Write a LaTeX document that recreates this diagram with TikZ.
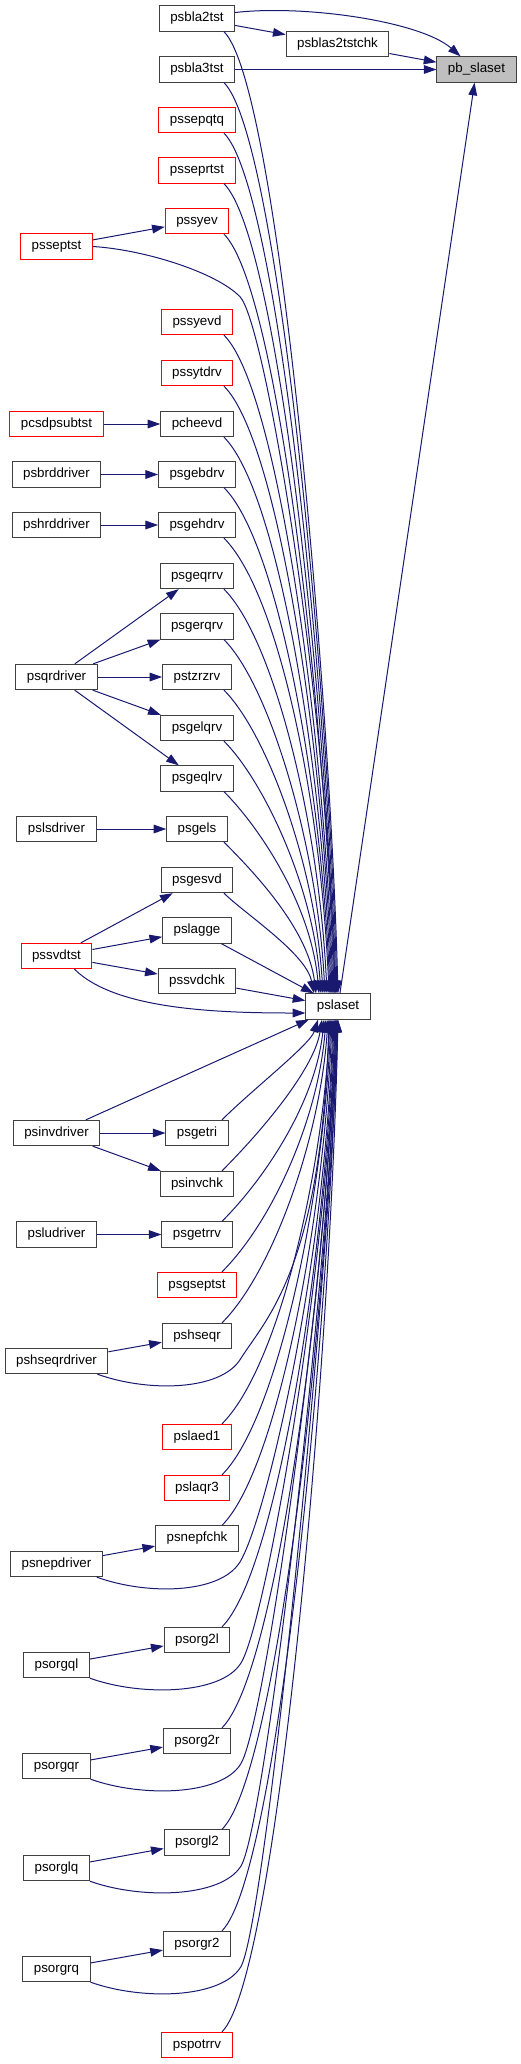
\documentclass[tikz,border=0pt]{standalone}
\usepackage{fontspec}
\setmainfont{Liberation Sans}
\usetikzlibrary{arrows.meta}
\definecolor{edgeblue}{RGB}{25,25,112}
\definecolor{boxgray}{RGB}{64,64,64}
\definecolor{selfgray}{RGB}{191,191,191}

\begin{document}
\begin{tikzpicture}[x=0.75pt, y=-0.75pt,
	fn/.style={draw=boxgray, line width=0.75pt, minimum height=19pt, inner xsep=8.25pt, inner ysep=0pt, text height=7.2pt, text depth=2.1pt, font=\fontsize{10}{12}\selectfont},
	fnred/.style={fn, draw=red},
	fnself/.style={fn, fill=selfgray},
	call/.style={edgeblue, line width=0.75pt, -{Triangle[length=9.5pt, width=6.5pt]}}]
	\useasboundingbox (0,0) rectangle (521,2064);

	\node[fn] (psbla2tst) at (197,18.5) {psbla2tst};
	\node[fn] (psblas2tstchk) at (337.5,44) {psblas2tstchk};
	\node[fnself] (pbslaset) at (476.5,69.5) {pb\_slaset};
	\node[fn] (psbla3tst) at (197,69.5) {psbla3tst};
	\node[fnred] (pssepqtq) at (197,120) {pssepqtq};
	\node[fnred] (psseprtst) at (197,170.5) {psseprtst};
	\node[fnred] (pssyev) at (197,221) {pssyev};
	\node[fnred] (psseptst) at (56.5,246.5) {psseptst};
	\node[fnred] (pssyevd) at (197,322) {pssyevd};
	\node[fnred] (pssytdrv) at (197,373) {pssytdrv};
	\node[fnred] (pcsdpsubtst) at (56.5,424) {pcsdpsubtst};
	\node[fn] (pcheevd) at (197,424) {pcheevd};
	\node[fn] (psbrddriver) at (56.5,474.5) {psbrddriver};
	\node[fn] (psgebdrv) at (197,474.5) {psgebdrv};
	\node[fn] (pshrddriver) at (56.5,525) {pshrddriver};
	\node[fn] (psgehdrv) at (197,525) {psgehdrv};
	\node[fn] (psgeqrrv) at (197,576) {psgeqrrv};
	\node[fn] (psgerqrv) at (197,626.5) {psgerqrv};
	\node[fn] (psqrdriver) at (56.5,677) {psqrdriver};
	\node[fn] (pstzrzrv) at (197,677) {pstzrzrv};
	\node[fn] (psgelqrv) at (197,728) {psgelqrv};
	\node[fn] (psgeqlrv) at (197,778.5) {psgeqlrv};
	\node[fn] (pslsdriver) at (56.5,829) {pslsdriver};
	\node[fn] (psgels) at (197,829) {psgels};
	\node[fn] (psgesvd) at (197,880) {psgesvd};
	\node[fn] (pslagge) at (197,930.5) {pslagge};
	\node[fnred] (pssvdtst) at (56.5,956) {pssvdtst};
	\node[fn] (pssvdchk) at (197,981) {pssvdchk};
	\node[fn] (pslaset) at (338,1006.5) {pslaset};
	\node[fn] (psinvdriver) at (56.5,1133) {psinvdriver};
	\node[fn] (psgetri) at (197,1133) {psgetri};
	\node[fn] (psinvchk) at (197,1184) {psinvchk};
	\node[fn] (psludriver) at (56.5,1234.5) {psludriver};
	\node[fn] (psgetrrv) at (197,1234.5) {psgetrrv};
	\node[fnred] (psgseptst) at (197,1285) {psgseptst};
	\node[fn] (pshseqr) at (197,1336) {pshseqr};
	\node[fn] (pshseqrdriver) at (56.5,1361) {pshseqrdriver};
	\node[fnred] (pslaed1) at (197,1437) {pslaed1};
	\node[fnred] (pslaqr3) at (197,1488) {pslaqr3};
	\node[fn] (psnepfchk) at (197,1538.5) {psnepfchk};
	\node[fn] (psnepdriver) at (56.5,1564) {psnepdriver};
	\node[fn] (psorg2l) at (197,1640) {psorg2l};
	\node[fn] (psorgql) at (56.5,1665) {psorgql};
	\node[fn] (psorg2r) at (197,1741) {psorg2r};
	\node[fn] (psorgqr) at (56.5,1766) {psorgqr};
	\node[fn] (psorgl2) at (197,1842.5) {psorgl2};
	\node[fn] (psorglq) at (56.5,1868) {psorglq};
	\node[fn] (psorgr2) at (197,1944) {psorgr2};
	\node[fn] (psorgrq) at (56.5,1969) {psorgrq};
	\node[fnred] (pspotrrv) at (197,2045) {pspotrrv};

	\draw[call] ([shift={(0,-6)}]psbla2tst.east) .. controls +(70,-8) and +(-40,-35) .. ([shift={(-16,0)}]pbslaset.north);
	\draw[call] (psbla2tst) -- (psblas2tstchk);
	\draw[call] (psblas2tstchk) -- (pbslaset);
	\draw[call] (psbla3tst) -- (pbslaset);
	\draw[call] (pslaset) -- (pbslaset);
	\draw[call] (psseptst) -- (pssyev);
	\draw[call] (psseptst.east) .. controls +(50,3) and +(-25,-25) .. ++(147,50) .. controls +(25,25) and +(-8,-300) .. ([shift={(-3,0)}]pslaset.north);
	\draw[call] (pcsdpsubtst) -- (pcheevd);
	\draw[call] (psbrddriver) -- (psgebdrv);
	\draw[call] (pshrddriver) -- (psgehdrv);
	\foreach \dst in {psgeqrrv, psgerqrv, pstzrzrv, psgelqrv, psgeqlrv}
		\draw[call] (psqrdriver) -- (\dst);
	\draw[call] (pslsdriver) -- (psgels);
	\foreach \dst in {psgesvd, pslagge, pssvdchk}
		\draw[call] (pssvdtst) -- (\dst);
	\draw[call] ([shift={(18,0)}]pssvdtst.south) .. controls +(40,40) and +(-90,0) .. ([shift={(0,6.5)}]pslaset.west);
	\draw[call] (pslagge) -- (pslaset);
	\draw[call] (pssvdchk) -- (pslaset);
	\foreach \dst in {pslaset, psgetri, psinvchk}
		\draw[call] (psinvdriver) -- (\dst);
	\draw[call] (psludriver) -- (psgetrrv);
	\draw[call] (pshseqrdriver) -- (pshseqr);
	\draw[call] (psnepdriver) -- (psnepfchk);
	\draw[call] (psorgql) -- (psorg2l);
	\draw[call] (psorgqr) -- (psorg2r);
	\draw[call] (psorglq) -- (psorgl2);
	\draw[call] (psorgrq) -- (psorgr2);

	\foreach \src/\dx/\ca/\cb in {psbla2tst/0/55/300, psbla3tst/-1/55/300, pssepqtq/-2/55/290, psseprtst/-3/55/280, pssyev/-4/55/270, pssyevd/-5/55/250, pssytdrv/-6/55/240, pcheevd/-7/55/220, psgebdrv/-8/55/200, psgehdrv/-9/55/190, psgeqrrv/-11/50/170, psgerqrv/-13/45/150, pstzrzrv/-15/42/130, psgelqrv/-17/38/110, psgeqlrv/-19/34/90, psgels/-22/28/65, psgesvd/-24/20/40}
		\draw[call] ([shift={(27,0)}]\src.south) .. controls +(\ca,\ca) and +(-8,-\cb) .. ([shift={(\dx,0)}]pslaset.north);

	\foreach \src/\dx/\ca/\cb in {psgetri/-20/30/25, psinvchk/-16/38/50, psgetrrv/-14/45/80, psgseptst/-12/50/100, pshseqr/-10/50/120, pslaed1/-8/55/160, pslaqr3/-7/55/180, psnepfchk/-6/55/200, psorg2l/-4/55/230, psorg2r/-3/55/260, psorgl2/-2/55/290, psorgr2/-1/55/320, pspotrrv/0/55/350}
		\draw[call] ([shift={(25,0)}]\src.north) .. controls +(\ca,-\ca) and +(-8,\cb) .. ([shift={(\dx,0)}]pslaset.south);

	\foreach \src/\sx/\mx/\dx in {pshseqrdriver/-11/143/-9, psnepdriver/-6/143/-5, psorgql/0/151/-3, psorgqr/0/150/-2, psorglq/0/151/-1, psorgrq/0/150/0}
		\draw[call] ([shift={(\sx,0)}]\src.south east) .. controls +(50,18) and +(-20,32) .. ++(\mx,-15) .. controls +(25,-40) and +(-8,250) .. ([shift={(\dx,0)}]pslaset.south);
\end{tikzpicture}
\end{document}
